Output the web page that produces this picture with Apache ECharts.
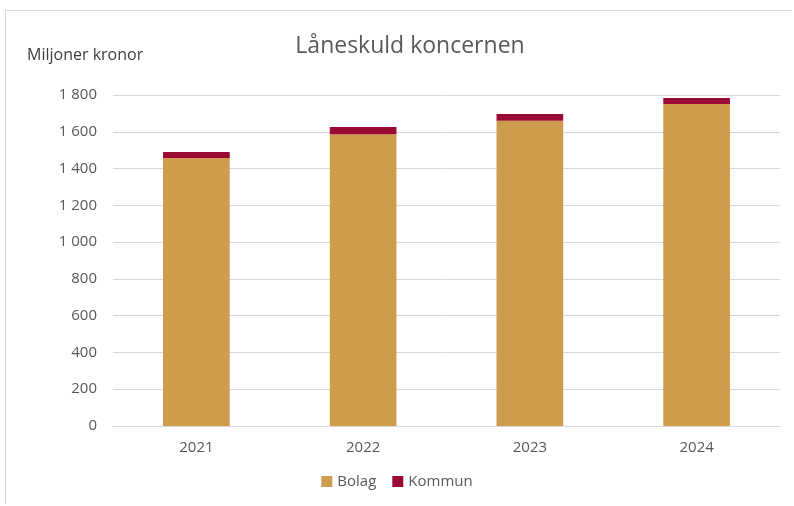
<!DOCTYPE html>
<html>
<head>
<meta charset="utf-8">
<script src="https://cdn.jsdelivr.net/npm/echarts@6/dist/echarts.min.js"></script>
<style>
  html, body { margin: 0; padding: 0; background: #fff; }
  .frame {
    position: absolute; left: 5px; top: 10px; width: 787px; height: 494px;
    border: 1px solid #d9d9d9; border-right: none; border-bottom: none; box-sizing: border-box;
  }
  #chart { position: absolute; left: 0; top: 0; width: 794px; height: 506px; }
</style>
</head>
<body>
<div class="frame"></div>
<div id="chart"></div>
<script>
  var years = ['2021', '2022', '2023', '2024'];
  var bolag = [1457, 1586, 1660, 1751];
  var kommun = [33, 40, 37, 33];

  var font = 'Open Sans, Noto Sans, sans-serif';
  var myChart = echarts.init(document.getElementById('chart'));
  myChart.setOption({
    animation: false,
    title: {
      text: 'Låneskuld koncernen',
      left: 405, top: 30, textAlign: 'center',
      textStyle: { fontFamily: font, fontSize: 23, fontWeight: 'normal', color: '#595959' }
    },
    legend: {
      bottom: 12, left: 'center',
      itemWidth: 11, itemHeight: 11, itemGap: 16,
      icon: 'rect',
      textStyle: { fontFamily: font, fontSize: 15, color: '#595959' },
      data: ['Bolag', 'Kommun']
    },
    grid: { left: 113, right: 14, top: 95, bottom: 80, containLabel: false },
    xAxis: {
      type: 'category',
      data: years,
      axisLine: { lineStyle: { color: '#d9d9d9' } },
      axisTick: { show: false },
      axisLabel: { fontFamily: font, fontSize: 15, color: '#595959', margin: 14 }
    },
    yAxis: {
      type: 'value',
      name: 'Miljoner kronor',
      nameLocation: 'end',
      nameGap: 32,
      nameTextStyle: { fontFamily: font, fontSize: 16, color: '#404040', align: 'left', padding: [0, 0, 0, -86] },
      min: 0, max: 1800, interval: 200,
      axisLine: { show: false },
      axisTick: { show: false },
      splitLine: { lineStyle: { color: '#d9d9d9' } },
      axisLabel: {
        fontFamily: font, fontSize: 15, color: '#595959', margin: 16,
        formatter: function (v) { return String(v).replace(/\B(?=(\d{3})+(?!\d))/g, ' '); }
      }
    },
    series: [
      {
        name: 'Bolag', type: 'bar', stack: 'total', barWidth: '40%',
        itemStyle: { color: '#cf9c4e' },
        data: bolag
      },
      {
        name: 'Kommun', type: 'bar', stack: 'total',
        itemStyle: { color: '#9b0a34' },
        data: kommun
      }
    ]
  });
</script>
</body>
</html>
